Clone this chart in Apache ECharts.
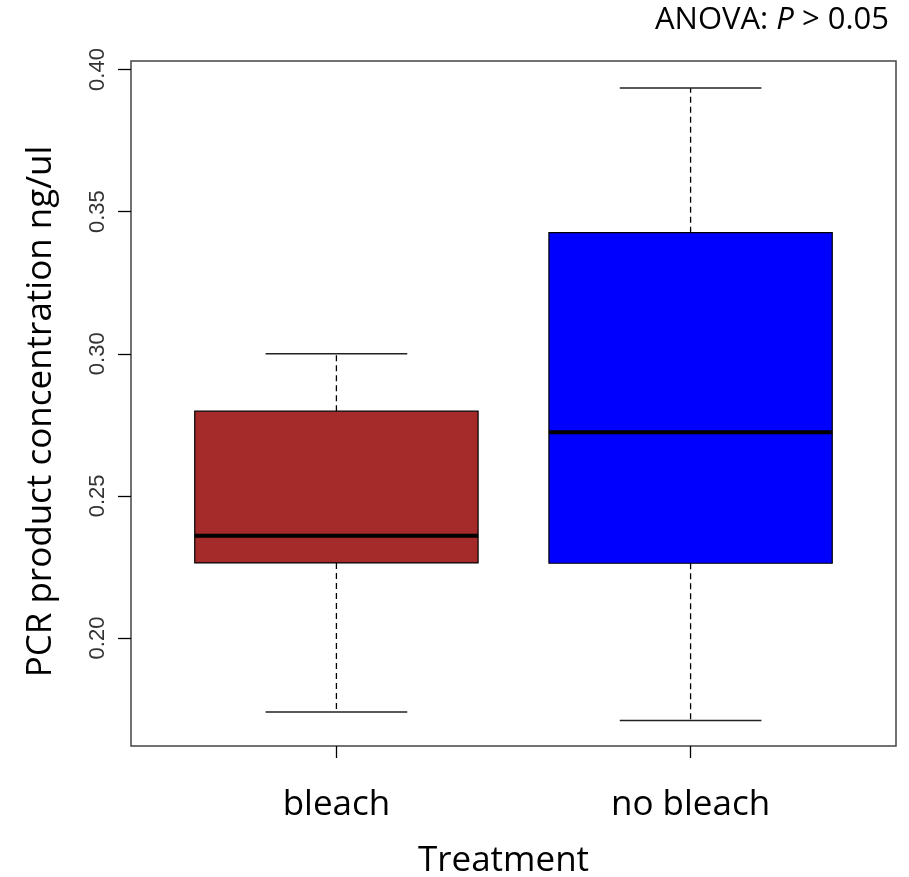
<!DOCTYPE html>
<html>
<head>
<meta charset="utf-8">
<script src="https://cdn.jsdelivr.net/npm/echarts@6/dist/echarts.min.js"></script>
<style>
  html, body { margin: 0; padding: 0; background: #fff; }
  #chart { width: 909px; height: 877px; }
</style>
</head>
<body>
<div id="chart"></div>
<script>
// 数据
var categories = ['bleach', 'no bleach'];
var minValues = [0.174, 0.171];
var q1Values = [0.2264, 0.2263];
var medianValues = [0.236, 0.2724];
var q3Values = [0.2798, 0.3426];
var maxValues = [0.300, 0.3935];
var yTicks = [0.20, 0.25, 0.30, 0.35, 0.40];
var xTicks = [1, 2];

var boxColors = ['#A52A2A', '#0000FF'];

var boxData = categories.map(function (c, i) {
    return [i + 1, minValues[i], q1Values[i], medianValues[i], q3Values[i], maxValues[i]];
});

var chart = echarts.init(document.getElementById('chart'));

function renderBox(params, api) {
    var x = api.value(0);
    var lo = api.coord([x, api.value(1)]);
    var q1 = api.coord([x, api.value(2)]);
    var med = api.coord([x, api.value(3)]);
    var q3 = api.coord([x, api.value(4)]);
    var hi = api.coord([x, api.value(5)]);
    var boxW = api.size([0.8, 0])[0];
    var capW = boxW / 2;
    var cx = lo[0];
    var dash = { stroke: '#000', lineWidth: 1.3, lineDash: [6, 4] };
    var solid = { stroke: '#222', lineWidth: 1.5 };
    return {
        type: 'group',
        children: [
            { type: 'line', shape: { x1: cx, y1: q1[1], x2: cx, y2: lo[1] }, style: dash },
            { type: 'line', shape: { x1: cx, y1: q3[1], x2: cx, y2: hi[1] }, style: dash },
            { type: 'line', shape: { x1: cx - capW / 2, y1: lo[1], x2: cx + capW / 2, y2: lo[1] }, style: solid },
            { type: 'line', shape: { x1: cx - capW / 2, y1: hi[1], x2: cx + capW / 2, y2: hi[1] }, style: solid },
            {
                type: 'rect',
                shape: { x: cx - boxW / 2, y: q3[1], width: boxW, height: q1[1] - q3[1] },
                style: { fill: boxColors[params.dataIndex], stroke: '#000', lineWidth: 1.2 }
            },
            { type: 'line', shape: { x1: cx - boxW / 2, y1: med[1], x2: cx + boxW / 2, y2: med[1] }, style: { stroke: '#000', lineWidth: 4 } }
        ]
    };
}

var option = {
    backgroundColor: '#fff',
    title: {
        text: '{n|ANOVA: }{i|P}{n| > 0.05}',
        right: 20,
        top: 5,
        padding: 0,
        textStyle: {
            fontWeight: 'normal',
            rich: {
                n: { fontFamily: 'Open Sans', fontSize: 31, fontWeight: 'normal', color: '#000' },
                i: { fontFamily: 'Open Sans', fontSize: 31, fontWeight: 'normal', fontStyle: 'italic', color: '#000' }
            }
        }
    },
    grid: {
        left: 131,
        right: 13,
        top: 61,
        bottom: 131,
        outerBoundsMode: 'none',
        containLabel: false,
        show: true,
        borderColor: '#444',
        borderWidth: 1.5
    },
    xAxis: {
        type: 'value',
        min: 0.42,
        max: 2.58,
        name: 'Treatment',
        nameLocation: 'middle',
        nameGap: 98,
        nameTextStyle: { fontFamily: 'Open Sans', fontSize: 35, color: '#000', padding: [0, 20, 0, 0] },
        axisLine: { show: false },
        splitLine: { show: false },
        axisTick: { show: true, customValues: xTicks, length: 12, lineStyle: { color: '#000', width: 1.3 } },
        axisLabel: {
            customValues: xTicks,
            margin: 42,
            fontFamily: 'Open Sans',
            fontSize: 35,
            color: '#000',
            formatter: function (v) { return categories[v - 1]; }
        }
    },
    yAxis: {
        type: 'value',
        min: 0.162,
        max: 0.403,
        name: 'PCR product concentration ng/ul',
        nameLocation: 'middle',
        nameGap: 72,
        nameTextStyle: { fontFamily: 'Open Sans', fontSize: 35, color: '#000', padding: [0, 16, 0, 0] },
        axisLine: { show: false },
        splitLine: { show: false },
        axisTick: { show: true, customValues: yTicks, length: 13, lineStyle: { color: '#000', width: 1.3 } },
        axisLabel: {
            customValues: yTicks,
            rotate: 90,
            margin: 22,
            fontFamily: 'Liberation Sans',
            fontSize: 22,
            color: '#333',
            formatter: function (v) { return v.toFixed(2); }
        }
    },
    series: [{
        type: 'custom',
        renderItem: renderBox,
        encode: { x: 0, y: [1, 2, 3, 4, 5] },
        data: boxData,
        silent: true
    }]
};

chart.setOption(option);
</script>
</body>
</html>
